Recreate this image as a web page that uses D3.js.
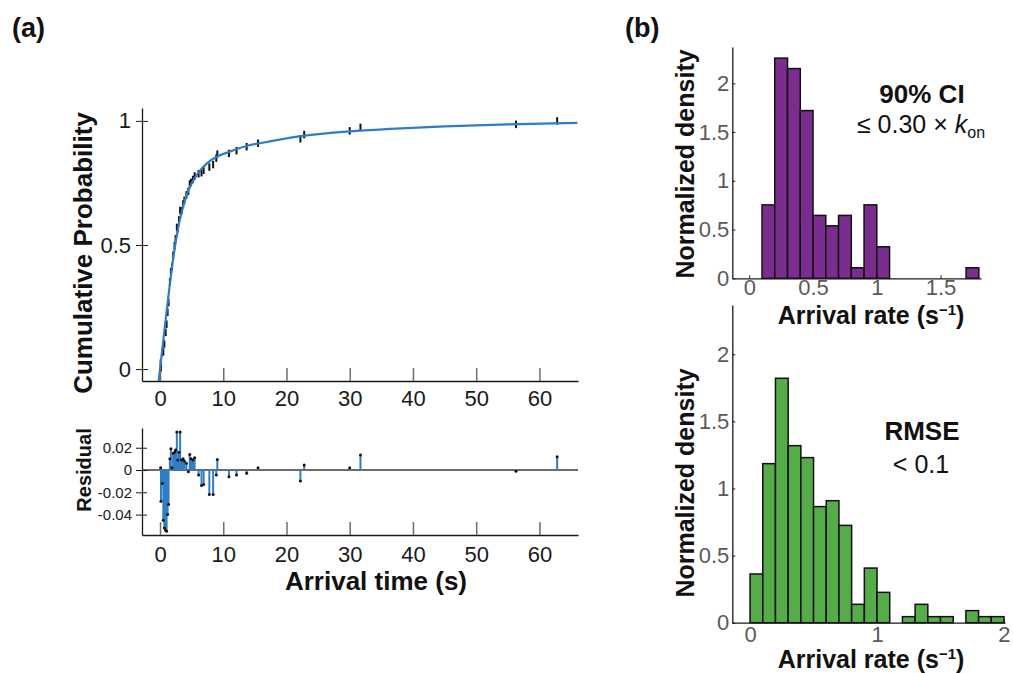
<!DOCTYPE html>
<html>
<head>
<meta charset="utf-8">
<script src="https://cdn.jsdelivr.net/npm/d3@7"></script>
<style>
    body { margin: 0; background: #fff; }
    svg { display: block; font-family: "Liberation Sans", Arial, Helvetica, sans-serif; }
</style>
</head>
<body>
<div id="chart"></div>
<script>
// fitted cumulative curve
const fitTime = [-0.22, 0, 0.5, 1.0, 1.5, 2.0, 2.5, 3.0, 3.5, 4.0, 4.75, 5.8, 7.4, 9.0, 11.0, 13.7, 15.8, 22.6, 30, 36.4, 45, 55, 66];
const fitProb = [-0.05, 0, 0.112, 0.222, 0.33, 0.43, 0.515, 0.585, 0.64, 0.685, 0.735, 0.782, 0.829, 0.856, 0.876, 0.899, 0.91, 0.94, 0.958, 0.968, 0.978, 0.986, 0.992];

// observed arrivals: time, empirical probability, residual
const obsTime = [0.1, 0.15, 0.36, 0.52, 0.68, 0.89, 1.04, 1.2, 1.35, 1.56, 1.72, 1.9, 2.08, 2.3, 2.45, 2.66, 2.8, 3.0, 3.18, 3.4, 3.65, 3.85, 4.17, 4.48, 4.7, 4.9, 5.2, 5.47, 6.1, 6.56, 6.9, 7.8, 8.4, 8.9, 9.06, 10.9, 12.1, 13.7, 15.5, 22.2, 22.8, 30.0, 31.7, 56.3, 62.8];
const obsProb = [0.024, 0.005, 0.067, 0.070, 0.101, 0.148, 0.181, 0.229, 0.268, 0.352, 0.393, 0.412, 0.459, 0.497, 0.525, 0.571, 0.566, 0.601, 0.639, 0.638, 0.665, 0.680, 0.702, 0.716, 0.746, 0.752, 0.764, 0.778, 0.787, 0.791, 0.801, 0.814, 0.824, 0.850, 0.866, 0.869, 0.880, 0.896, 0.910, 0.928, 0.945, 0.960, 0.974, 0.986, 1.0];
const obsResid = [0.002, -0.028, -0.012, -0.045, -0.052, -0.054, -0.055, -0.040, -0.031, 0.010, 0.019, 0.002, 0.015, 0.016, 0.018, 0.034, 0.009, 0.016, 0.034, 0.009, 0.010, 0.008, 0.006, -0.0015, 0.014, 0.010, 0.009, 0.011, -0.0045, -0.014, -0.013, -0.022, -0.022, -0.0045, 0.0095, -0.006, -0.0045, -0.003, 0.002, -0.0099, 0.0045, 0.002, 0.0134, -0.001, 0.012];

const timeTicks = [0, 10, 20, 30, 40, 50, 60];
const probTicks = [0, 0.5, 1];
const residTicks = [0.02, 0, -0.02, -0.04];
const residTickLabels = ["0.02", "0", "-0.02", "-0.04"];

// histograms (bin left edge, normalized density)
const purpleEdges = [0.1, 0.2, 0.3, 0.4, 0.5, 0.6, 0.7, 0.8, 0.9, 1.0, 1.1, 1.2, 1.3, 1.4, 1.5, 1.6, 1.7];
const purpleDensity = [0.753, 2.258, 2.151, 1.72, 0.645, 0.538, 0.645, 0.108, 0.753, 0.323, 0, 0, 0, 0, 0, 0, 0.108];
const greenEdges = [0, 0.1, 0.2, 0.3, 0.4, 0.5, 0.6, 0.7, 0.8, 0.9, 1.0, 1.1, 1.2, 1.3, 1.4, 1.5, 1.6, 1.7, 1.8, 1.9];
const greenDensity = [0.363, 1.185, 1.821, 1.319, 1.23, 0.865, 0.909, 0.725, 0.137, 0.407, 0.226, 0, 0.045, 0.137, 0.045, 0.045, 0, 0.09, 0.045, 0.045];
const binWidth = 0.1;

const densityTicks = [0, 0.5, 1, 1.5, 2];
const rateTicksTop = [0, 0.5, 1, 1.5];
const rateTicksBottom = [0, 1, 2];

document.addEventListener("DOMContentLoaded", function () {

    const W = 1013, H = 673;
    const blue = "#2f7dc6", purple = "#7b2d8e", green = "#56ac48", grey = "#5a5a5a";

    const svg = d3.select("#chart").append("svg")
        .attr("width", W).attr("height", H);

    let styleAxis = function (g, size, color) {
        g.attr("font-family", null).attr("font-size", size);
        g.select(".domain").attr("stroke", "#1a1a1a").attr("stroke-width", 1.3);
        g.selectAll(".tick text").attr("fill", color);
        return g;
    };

    // ---- panel (a), cumulative probability
    const xT = d3.scaleLinear().domain([-2.85, 66.1]).range([142, 578]);
    const yP = d3.scaleLinear().domain([-0.048, 1.052]).range([381, 108]);
    const yR = d3.scaleLinear().domain([-0.0583, 0.0377]).range([535, 428]);

    let gTop = svg.append("g");

    gTop.selectAll("line.obs")
        .data(obsTime)
        .enter().append("line")
        .attr("class", "obs")
        .attr("x1", d => xT(d)).attr("x2", d => xT(d))
        .attr("y1", (d, i) => yP(obsProb[i] - 0.015))
        .attr("y2", (d, i) => yP(obsProb[i] + 0.015))
        .attr("stroke", "#111").attr("stroke-width", 2);

    let fitLine = d3.line()
        .x(d => xT(d[0]))
        .y(d => yP(d[1]))
        .curve(d3.curveMonotoneX);

    gTop.append("path")
        .attr("d", fitLine(fitTime.map((t, i) => [t, fitProb[i]])))
        .attr("fill", "none").attr("stroke", blue).attr("stroke-width", 2.2);

    let yAxisP = gTop.append("g")
        .attr("transform", "translate(142,0)")
        .call(d3.axisLeft(yP).tickValues(probTicks).tickFormat(d => String(d)).tickSize(6).tickSizeOuter(0).tickPadding(5));
    styleAxis(yAxisP, 22, "#1a1a1a");
    yAxisP.selectAll(".tick line").attr("x1", 6).attr("stroke", "#1a1a1a");

    let xAxisP = gTop.append("g")
        .attr("transform", "translate(0,381)")
        .call(d3.axisBottom(xT).tickValues(timeTicks).tickSizeInner(-13).tickSizeOuter(0).tickPadding(9));
    styleAxis(xAxisP, 22, "#1a1a1a");
    xAxisP.selectAll(".tick line").attr("stroke", "#6e6e6e").attr("stroke-width", 1.5);

    // ---- residuals
    let gRes = svg.append("g");

    gRes.append("line")
        .attr("x1", xT.range()[0]).attr("x2", xT.range()[1])
        .attr("y1", yR(0)).attr("y2", yR(0))
        .attr("stroke", "#3c3c3c").attr("stroke-width", 1.3);

    gRes.selectAll("line.stem")
        .data(obsTime)
        .enter().append("line")
        .attr("class", "stem")
        .attr("x1", d => xT(d)).attr("x2", d => xT(d))
        .attr("y1", yR(0))
        .attr("y2", (d, i) => yR(obsResid[i]))
        .attr("stroke", blue).attr("stroke-width", 2);

    gRes.selectAll("circle")
        .data(obsTime)
        .enter().append("circle")
        .attr("cx", d => xT(d))
        .attr("cy", (d, i) => yR(obsResid[i]))
        .attr("r", 1.5)
        .attr("fill", "#111");

    let yAxisR = gRes.append("g")
        .attr("transform", "translate(142,0)")
        .call(d3.axisLeft(yR).tickValues(residTicks).tickFormat((d, i) => residTickLabels[i]).tickSize(6).tickSizeOuter(0).tickPadding(4));
    styleAxis(yAxisR, 15, "#1a1a1a");
    yAxisR.selectAll(".tick line").attr("x1", 5).attr("stroke", "#1a1a1a");

    let xAxisR = gRes.append("g")
        .attr("transform", "translate(0,535)")
        .call(d3.axisBottom(xT).tickValues(timeTicks).tickSizeInner(-13).tickSizeOuter(0).tickPadding(11));
    styleAxis(xAxisR, 22, "#1a1a1a");
    xAxisR.selectAll(".tick line").attr("stroke", "#6e6e6e").attr("stroke-width", 1.5);

    // ---- panel (b), histograms
    let drawHist = function (edges, dens, color, xs, ys, xTicks, xPad) {
        let g = svg.append("g");
        g.selectAll("rect")
            .data(edges.filter((e, i) => dens[i] > 0))
            .enter().append("rect")
            .attr("x", d => xs(d))
            .attr("width", d => xs(d + binWidth) - xs(d))
            .attr("y", d => ys(dens[edges.indexOf(d)]))
            .attr("height", d => ys(0) - ys(dens[edges.indexOf(d)]))
            .attr("fill", color)
            .attr("stroke", "#111").attr("stroke-width", 1.5);

        let ya = g.append("g")
            .attr("transform", "translate(" + xs.range()[0] + ",0)")
            .call(d3.axisLeft(ys).tickValues(densityTicks).tickFormat(d => String(d)).tickSizeInner(-3).tickSizeOuter(0).tickPadding(3));
        styleAxis(ya, 22, grey);
        ya.selectAll(".tick line").attr("stroke", "#1a1a1a");

        let xa = g.append("g")
            .attr("transform", "translate(0," + ys.range()[0] + ")")
            .call(d3.axisBottom(xs).tickValues(xTicks).tickFormat(d => String(d)).tickSizeInner(-3).tickSizeOuter(0).tickPadding(xPad));
        styleAxis(xa, 22, grey);
        xa.selectAll(".tick line").attr("stroke", "#1a1a1a");
        return g;
    };

    const xH1 = d3.scaleLinear().domain([-0.133, 1.817]).range([732.3, 981]);
    const yH1 = d3.scaleLinear().domain([0, 2.372]).range([278.3, 47]);
    drawHist(purpleEdges, purpleDensity, purple, xH1, yH1, rateTicksTop, 1);

    const xH2 = d3.scaleLinear().domain([-0.14, 2.008]).range([732.3, 1005]);
    const yH2 = d3.scaleLinear().domain([0, 2.367]).range([622.7, 305]);
    drawHist(greenEdges, greenDensity, green, xH2, yH2, rateTicksBottom, 4);

    // ---- texts
    let text = function (x, y, str, size, bold, rotate) {
        let t = svg.append("text")
            .attr("font-size", size)
            .attr("font-weight", bold ? "bold" : "normal")
            .attr("fill", "#111")
            .attr("text-anchor", "middle")
            .text(str);
        if (rotate) t.attr("transform", "translate(" + x + "," + y + ") rotate(-90)");
        else t.attr("x", x).attr("y", y);
        return t;
    };

    text(12, 37, "(a)", 27, true).attr("text-anchor", "start");
    text(625, 37, "(b)", 27, true).attr("text-anchor", "start");

    text(92, 253, "Cumulative Probability", 26, true, true);
    text(91, 470, "Residual", 20, true, true);
    text(376, 590, "Arrival time (s)", 26, true);

    text(694, 164, "Normalized density", 25, true, true);
    text(694, 483, "Normalized density", 25, true, true);

    let rateLabel = function (x, y) {
        let t = text(x, y, "Arrival rate (s", 25, true);
        t.append("tspan").attr("font-size", 15).attr("dy", -9).text("\u22121");
        t.append("tspan").attr("font-size", 25).attr("dy", 9).text(")");
    };
    rateLabel(871, 324);
    rateLabel(871, 668);

    text(922, 103, "90% CI", 26, true);
    let ci = text(921, 133, "\u2264 0.30 \u00d7 ", 25, false);
    ci.append("tspan").attr("font-style", "italic").text("k");
    ci.append("tspan").attr("font-size", 16).attr("dy", 5).text("on");

    text(922, 440, "RMSE", 26, true);
    text(921, 473, "< 0.1", 25, false);

});
</script>
</body>
</html>
